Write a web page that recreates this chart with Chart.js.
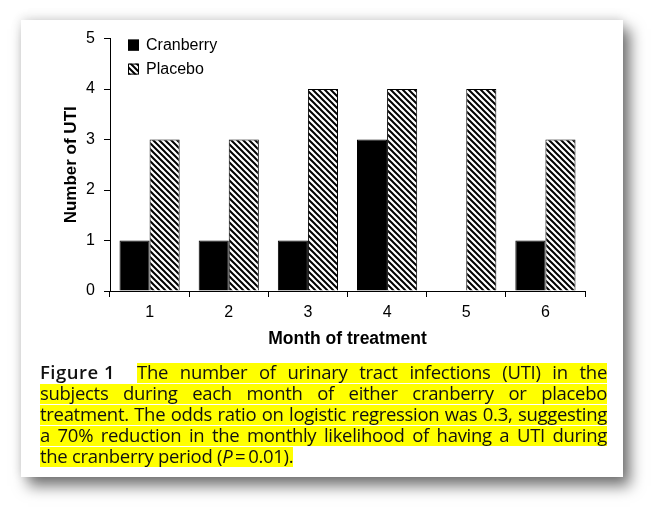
<!DOCTYPE html>
<html>
<head>
<meta charset="utf-8">
<script src="https://cdn.jsdelivr.net/npm/chart.js@4.4.1/dist/chart.umd.min.js"></script>
<style>
  html,body{margin:0;padding:0;background:#fff;width:665px;height:521px;overflow:hidden;}
  #card{position:absolute;left:21px;top:20px;width:602px;height:457px;background:#fff;
        box-shadow:7px 9px 14px rgba(0,0,0,0.55), 0 -2px 10px rgba(0,0,0,0.12);}
  #wrap{position:absolute;left:0;top:0;width:602px;height:340px;}
  #cap{position:absolute;left:19px;top:341px;width:567px;font-family:"Open Sans",sans-serif;
       font-size:18.5px;line-height:21px;color:#111;letter-spacing:-0.3px;}
  #cap div{white-space:nowrap;text-align:justify;text-align-last:justify;}
  #cap div.last{text-align-last:left;}
  #cap b{font-weight:600;display:inline-block;margin-right:22px;letter-spacing:0.5px;}
  .hl{background-image:linear-gradient(#ffff00,#ffff00);background-repeat:no-repeat;
      background-size:100% 20px;background-position:0 4px;}
</style>
</head>
<body>
<div id="card">
  <div id="wrap"><canvas id="c"></canvas></div>
  <div id="cap">
    <div><b>Figure 1</b><span class="hl">The number of urinary tract infections (UTI) in the</span></div>
    <div><span class="hl">subjects during each month of either cranberry or placebo</span></div>
    <div><span class="hl">treatment. The odds ratio on logistic regression was 0.3, suggesting</span></div>
    <div><span class="hl">a 70% reduction in the monthly likelihood of having a UTI during</span></div>
    <div class="last"><span class="hl">the cranberry period (<i>P</i>&#8201;=&#8201;0.01).</span></div>
  </div>
</div>
<script>
const months = ['1','2','3','4','5','6'];
const cranberry = [1,1,1,3,0,1];
const placebo = [3,3,4,4,4,3];
const yTicks = [0,1,2,3,4,5];

function hatch(){
  const s=6;
  const c=document.createElement('canvas'); c.width=s; c.height=s;
  const x=c.getContext('2d');
  x.fillStyle='#fff'; x.fillRect(0,0,s,s);
  x.strokeStyle='#000'; x.lineWidth=2;
  x.beginPath();
  x.moveTo(-1,-1); x.lineTo(s+1,s+1);
  x.moveTo(-1,s-1); x.lineTo(1,s+1);
  x.moveTo(s-1,-1); x.lineTo(s+1,1);
  x.stroke();
  return x.createPattern(c,'repeat');
}

const legendPlugin={
  id:'boxLegend',
  afterDraw(chart){
    const ctx=chart.ctx, a=chart.chartArea;
    ctx.save();
    chart.data.datasets.forEach((ds,i)=>{
      const x=a.left+18, y=a.top+1+i*24;
      ctx.fillStyle=ds.backgroundColor; ctx.fillRect(x,y,11,11);
      ctx.strokeStyle='#000'; ctx.lineWidth=1; ctx.strokeRect(x+0.5,y+0.5,10,10);
      ctx.fillStyle='#000'; ctx.font='16px "Liberation Sans", Arial, sans-serif';
      ctx.textBaseline='middle'; ctx.textAlign='left';
      ctx.fillText(ds.label,x+18,y+6);
    });
    ctx.restore();
  }
};

Chart.defaults.font.family='"Liberation Sans", Arial, sans-serif';
Chart.defaults.color='#000';

new Chart(document.getElementById('c'),{
  type:'bar',
  data:{
    labels:months,
    datasets:[
      {label:'Cranberry',data:cranberry,backgroundColor:'#000',borderColor:'#000',borderWidth:1},
      {label:'Placebo',data:placebo,backgroundColor:hatch(),borderColor:'#000',borderWidth:1}
    ]
  },
  options:{
    responsive:true,maintainAspectRatio:false,animation:false,
    layout:{padding:{left:36,top:16,right:38,bottom:0}},
    datasets:{bar:{categoryPercentage:0.76,barPercentage:1.0}},
    plugins:{legend:{display:false},tooltip:{enabled:false}},
    scales:{
      x:{
        grid:{display:true,drawOnChartArea:false,drawTicks:true,tickLength:6,color:'#000',offset:true},
        border:{display:true,color:'#000',width:1},
        ticks:{font:{size:16},padding:6,color:'#000'},
        title:{display:true,text:'Month of treatment',font:{size:17.5,weight:'bold'},padding:{top:4,bottom:10},color:'#000'},
        afterFit(s){s.height=69;}
      },
      y:{
        min:0,max:5,
        afterBuildTicks(s){s.ticks=yTicks.map(v=>({value:v}));},
        grid:{display:true,drawOnChartArea:false,drawTicks:true,tickLength:6,color:'#000'},
        border:{display:true,color:'#000',width:1},
        ticks:{font:{size:16},padding:9,color:'#000'},
        title:{display:true,text:'Number of UTI',font:{size:17,weight:'bold'},padding:{top:4,bottom:4},color:'#000'},
        afterFit(s){s.width=53;}
      }
    }
  },
  plugins:[legendPlugin]
});
</script>
</body>
</html>
